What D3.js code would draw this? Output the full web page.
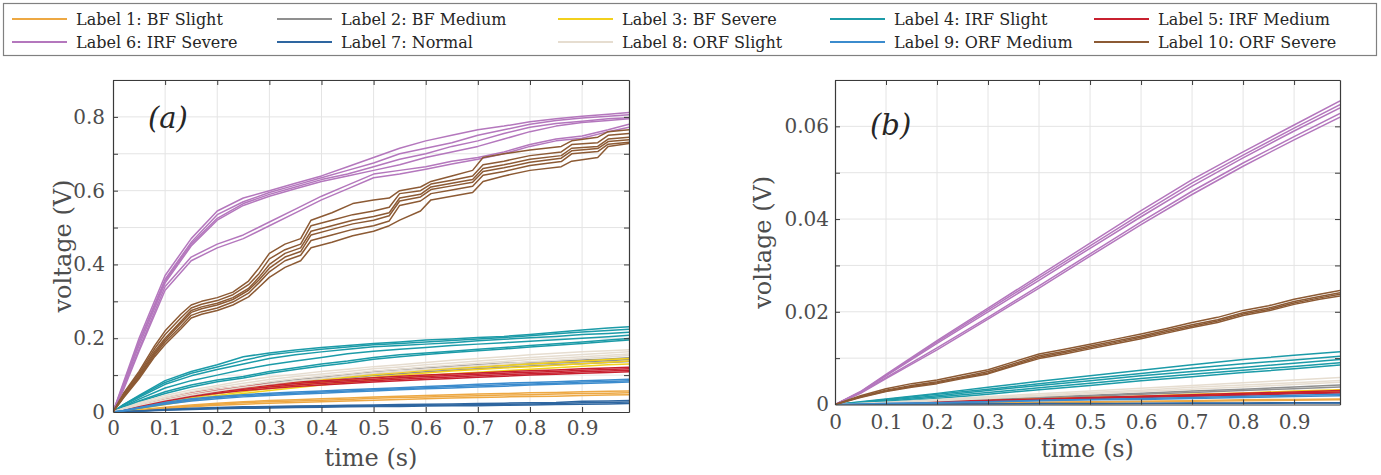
<!DOCTYPE html>
<html>
<head>
<meta charset="utf-8">
<script src="https://cdn.jsdelivr.net/npm/d3@7"></script>
<style>
  body { margin: 0; background: #fff; }
  svg, svg text { font-family: "DejaVu Serif", serif; }
</style>
</head>
<body>
<script>
// class names and line colours
const labels = ["Label 1: BF Slight", "Label 2: BF Medium", "Label 3: BF Severe", "Label 4: IRF Slight",
  "Label 5: IRF Medium", "Label 6: IRF Severe", "Label 7: Normal", "Label 8: ORF Slight",
  "Label 9: ORF Medium", "Label 10: ORF Severe"];
const colors = ["#eda843", "#8f8f8f", "#f2d01c", "#1c9ba8", "#c8202f", "#b477bd", "#2e66a0", "#e6ddd0", "#3b8bcd", "#8c5a34"];

// tick values
const xTicks = [0, 0.1, 0.2, 0.3, 0.4, 0.5, 0.6, 0.7, 0.8, 0.9];
const yTicksA = [0, 0.1, 0.2, 0.3, 0.4, 0.5, 0.6, 0.7, 0.8, 0.9];
const yTicksB = [0, 0.01, 0.02, 0.03, 0.04, 0.05, 0.06, 0.07];

// sample times (s)
const timeA = [0, 0.02, 0.05, 0.1, 0.15, 0.2, 0.25, 0.3, 0.35, 0.4, 0.45, 0.5, 0.55, 0.6, 0.65, 0.7, 0.75, 0.8, 0.85, 0.9, 0.95, 0.99];
const timeBrownA = [0, 0.02, 0.05, 0.08, 0.1, 0.13, 0.15, 0.17, 0.2, 0.23, 0.26, 0.28, 0.3, 0.33, 0.36, 0.38, 0.42, 0.46, 0.5, 0.53, 0.55, 0.59, 0.61, 0.65, 0.69, 0.71, 0.75, 0.8, 0.86, 0.88, 0.93, 0.95, 0.99];
const timeB = [0, 0.05, 0.1, 0.2, 0.3, 0.4, 0.5, 0.6, 0.7, 0.8, 0.9, 0.99];
const timeBrownB = [0, 0.05, 0.1, 0.15, 0.2, 0.25, 0.3, 0.35, 0.4, 0.45, 0.5, 0.55, 0.6, 0.65, 0.7, 0.75, 0.8, 0.85, 0.9, 0.95, 0.99];

// ---- panel (a): voltage per run (V) ----
const bfSlightA = [
  [0, .002, .006, .013, .019, .024, .028, .031, .033, .036, .038, .041, .043, .045, .047, .049, .050, .052, .053, .055, .056, .057],
  [0, .002, .005, .011, .016, .021, .025, .028, .030, .032, .034, .037, .039, .041, .043, .044, .046, .047, .049, .050, .051, .052],
  [0, .001, .004, .009, .014, .018, .021, .024, .026, .028, .030, .032, .034, .036, .038, .039, .041, .042, .043, .045, .046, .047]
];
const bfMediumA = [
  [0, .005, .014, .030, .045, .058, .070, .080, .088, .095, .102, .110, .115, .120, .124, .128, .132, .135, .138, .141, .144, .147],
  [0, .005, .013, .028, .042, .054, .065, .075, .083, .090, .097, .104, .109, .114, .118, .122, .126, .130, .133, .136, .139, .142],
  [0, .004, .012, .026, .039, .050, .060, .070, .078, .085, .092, .099, .104, .109, .113, .117, .121, .125, .128, .131, .134, .137]
];
const bfSevereA = [
  [0, .004, .011, .025, .038, .050, .061, .070, .079, .087, .094, .101, .107, .113, .118, .122, .126, .130, .134, .138, .142, .145],
  [0, .004, .010, .022, .034, .045, .055, .064, .072, .080, .087, .094, .100, .106, .111, .115, .119, .123, .127, .131, .135, .138],
  [0, .003, .009, .020, .031, .041, .050, .058, .066, .073, .080, .087, .093, .099, .104, .108, .112, .116, .120, .124, .128, .130]
];
const irfSlightA = [
  [0, .020, .045, .085, .110, .128, .150, .160, .168, .175, .180, .186, .190, .195, .198, .202, .205, .210, .216, .222, .228, .231],
  [0, .020, .043, .080, .105, .122, .140, .155, .163, .170, .176, .182, .186, .190, .194, .198, .202, .207, .212, .217, .221, .224],
  [0, .018, .040, .075, .098, .115, .130, .145, .155, .163, .170, .177, .180, .184, .188, .193, .197, .201, .205, .210, .213, .216],
  [0, .015, .035, .065, .085, .100, .115, .128, .138, .148, .158, .165, .170, .175, .180, .184, .188, .192, .196, .200, .204, .208],
  [0, .013, .030, .055, .073, .087, .096, .110, .120, .130, .138, .148, .155, .160, .165, .170, .175, .180, .185, .190, .195, .199],
  [0, .012, .028, .050, .068, .082, .092, .105, .115, .125, .133, .143, .150, .156, .161, .166, .171, .176, .181, .186, .191, .195]
];
const irfMediumA = [
  [0, .006, .018, .038, .053, .062, .070, .076, .081, .085, .089, .093, .097, .100, .103, .106, .109, .112, .114, .117, .119, .121],
  [0, .005, .016, .035, .049, .058, .066, .072, .077, .081, .085, .089, .093, .096, .099, .102, .105, .108, .110, .113, .115, .117],
  [0, .005, .015, .032, .046, .055, .062, .068, .073, .077, .081, .085, .089, .092, .095, .098, .101, .104, .106, .109, .111, .113],
  [0, .004, .013, .029, .042, .051, .058, .064, .069, .073, .077, .081, .085, .088, .091, .094, .097, .100, .102, .105, .107, .109]
];
const irfSevereA = [
  [0, .080, .200, .370, .470, .545, .580, .600, .620, .640, .665, .690, .715, .735, .750, .765, .775, .787, .795, .802, .807, .812],
  [0, .075, .190, .360, .460, .535, .570, .595, .615, .635, .655, .675, .700, .715, .730, .750, .765, .780, .790, .797, .802, .806],
  [0, .070, .190, .355, .455, .525, .565, .590, .610, .630, .645, .665, .685, .700, .720, .735, .755, .772, .782, .788, .795, .798],
  [0, .070, .180, .350, .450, .520, .560, .585, .605, .625, .640, .655, .670, .690, .705, .720, .740, .760, .775, .785, .790, .795],
  [0, .065, .170, .340, .420, .455, .480, .515, .550, .585, .615, .645, .655, .665, .680, .690, .705, .725, .740, .748, .765, .780],
  [0, .060, .165, .330, .410, .445, .470, .505, .540, .575, .605, .635, .645, .658, .672, .685, .700, .720, .735, .742, .760, .772]
];
const normalA = [
  [0, .001, .003, .007, .010, .012, .014, .015, .016, .017, .018, .019, .020, .021, .022, .023, .024, .025, .026, .029, .030, .031],
  [0, .001, .003, .006, .008, .010, .012, .013, .014, .015, .016, .017, .018, .018, .019, .020, .021, .022, .023, .025, .026, .027],
  [0, .001, .002, .005, .007, .009, .010, .011, .012, .013, .014, .015, .015, .016, .017, .017, .018, .019, .020, .021, .022, .023]
];
const orfSlightA = [
  [0, .010, .025, .045, .060, .072, .085, .095, .102, .110, .116, .123, .128, .134, .140, .145, .150, .155, .159, .163, .166, .169],
  [0, .010, .022, .040, .055, .067, .078, .088, .096, .103, .110, .117, .122, .128, .133, .138, .143, .148, .152, .156, .160, .163],
  [0, .009, .020, .037, .050, .062, .072, .082, .090, .097, .104, .111, .116, .122, .127, .132, .137, .142, .146, .150, .154, .157],
  [0, .008, .018, .033, .046, .057, .067, .076, .084, .091, .098, .105, .110, .116, .121, .126, .131, .136, .140, .145, .149, .153]
];
const orfMediumA = [
  [0, .004, .012, .026, .036, .042, .047, .051, .054, .057, .060, .063, .066, .069, .072, .075, .078, .080, .082, .085, .087, .089],
  [0, .004, .011, .023, .033, .039, .044, .048, .051, .054, .057, .060, .063, .066, .069, .071, .074, .076, .078, .081, .083, .085],
  [0, .003, .010, .021, .030, .036, .041, .045, .048, .051, .054, .057, .060, .063, .065, .068, .070, .073, .075, .077, .079, .081]
];
const orfSevereA = [
  [0, .050, .110, .180, .220, .265, .290, .300, .310, .325, .355, .390, .430, .455, .470, .520, .540, .565, .575, .580, .600, .610, .625, .640, .655, .690, .700, .710, .720, .735, .745, .760, .765],
  [0, .048, .105, .172, .210, .255, .282, .292, .302, .318, .345, .375, .415, .440, .455, .505, .520, .535, .545, .555, .592, .600, .618, .628, .640, .670, .680, .695, .705, .725, .730, .750, .755],
  [0, .045, .100, .165, .200, .245, .275, .285, .295, .310, .335, .365, .400, .430, .445, .490, .505, .520, .530, .540, .580, .590, .610, .620, .630, .660, .670, .685, .695, .715, .720, .740, .745],
  [0, .043, .097, .160, .195, .240, .270, .280, .290, .305, .330, .358, .390, .420, .435, .480, .495, .510, .520, .532, .572, .583, .603, .613, .623, .652, .662, .677, .688, .708, .714, .733, .738],
  [0, .040, .093, .155, .190, .232, .262, .272, .282, .298, .322, .350, .380, .410, .425, .465, .480, .495, .505, .518, .560, .572, .592, .602, .612, .642, .652, .668, .679, .700, .706, .726, .731],
  [0, .038, .090, .150, .183, .225, .255, .265, .275, .290, .312, .338, .365, .392, .410, .445, .460, .478, .490, .505, .520, .545, .575, .585, .595, .625, .640, .655, .665, .680, .690, .720, .728]
];

// ---- panel (b): voltage per run (V) ----
const bfSlightB = [
  [0, 0, .0001, .0002, .0004, .0005, .0006, .0007, .0008, .0010, .0011, .0012],
  [0, 0, .0001, .0002, .0003, .0004, .0005, .0006, .0007, .0008, .0009, .0010]
];
const bfMediumB = [
  [0, .0001, .0003, .0007, .0011, .0016, .0020, .0024, .0029, .0033, .0038, .0042],
  [0, .0001, .0003, .0006, .0010, .0014, .0018, .0022, .0026, .0030, .0034, .0038]
];
const bfSevereB = [
  [0, .0001, .0002, .0005, .0008, .0012, .0015, .0018, .0022, .0025, .0029, .0032],
  [0, .0001, .0002, .0005, .0008, .0011, .0014, .0017, .0020, .0023, .0026, .0029]
];
const irfSlightB = [
  [0, .0006, .0012, .0024, .0037, .0050, .0062, .0074, .0086, .0097, .0106, .0114],
  [0, .0005, .0011, .0022, .0033, .0045, .0056, .0067, .0078, .0088, .0096, .0104],
  [0, .0004, .0009, .0019, .0030, .0041, .0051, .0062, .0071, .0080, .0089, .0097],
  [0, .0003, .0007, .0016, .0026, .0036, .0046, .0056, .0065, .0074, .0082, .0090],
  [0, .0002, .0005, .0013, .0022, .0032, .0041, .0051, .0060, .0069, .0077, .0085]
];
const irfMediumB = [
  [0, .0001, .0003, .0006, .0009, .0012, .0015, .0018, .0021, .0024, .0027, .0030],
  [0, .0001, .0003, .0006, .0008, .0011, .0014, .0017, .0019, .0022, .0025, .0027],
  [0, .0001, .0002, .0005, .0007, .0010, .0013, .0015, .0018, .0020, .0023, .0025]
];
const irfSevereB = [
  [0, .0028, .0065, .0138, .0208, .0278, .0348, .0418, .0485, .0545, .0603, .0655],
  [0, .0027, .0063, .0135, .0204, .0273, .0342, .0411, .0478, .0538, .0596, .0647],
  [0, .0026, .0062, .0132, .0200, .0268, .0337, .0405, .0471, .0532, .0590, .0640],
  [0, .0025, .0058, .0122, .0188, .0256, .0325, .0394, .0460, .0521, .0578, .0628],
  [0, .0024, .0056, .0118, .0184, .0251, .0320, .0388, .0453, .0514, .0571, .0620]
];
const normalB = [
  [0, 0, 0, .0001, .0001, .0002, .0002, .0002, .0003, .0003, .0004, .0004],
  [0, 0, 0, 0, .0001, .0001, .0001, .0002, .0002, .0002, .0003, .0003]
];
const orfSlightB = [
  [0, .0002, .0005, .0011, .0017, .0023, .0029, .0035, .0041, .0047, .0053, .0058],
  [0, .0002, .0004, .0009, .0015, .0020, .0026, .0031, .0037, .0042, .0047, .0052],
  [0, .0001, .0003, .0008, .0013, .0018, .0023, .0028, .0033, .0038, .0043, .0048]
];
const orfMediumB = [
  [0, .0001, .0002, .0004, .0006, .0009, .0011, .0013, .0015, .0018, .0020, .0022],
  [0, .0001, .0002, .0004, .0006, .0008, .0010, .0011, .0013, .0015, .0017, .0019]
];
const orfSevereB = [
  [0, .0019, .0034, .0045, .0053, .0064, .0075, .0092, .0109, .0119, .0130, .0141, .0152, .0164, .0177, .0188, .0203, .0213, .0227, .0238, .0246],
  [0, .0017, .0031, .0041, .0049, .0060, .0071, .0088, .0105, .0115, .0126, .0137, .0148, .0160, .0172, .0183, .0198, .0208, .0222, .0233, .0241],
  [0, .0016, .0029, .0039, .0047, .0058, .0068, .0085, .0102, .0112, .0123, .0134, .0145, .0157, .0169, .0180, .0195, .0205, .0219, .0230, .0238],
  [0, .0015, .0028, .0037, .0045, .0056, .0066, .0083, .0099, .0109, .0120, .0131, .0142, .0154, .0166, .0177, .0192, .0202, .0216, .0227, .0234]
];

const panels = [
  {
    id: "a", left: 113, right: 629, top: 80, bottom: 412,
    yMax: 0.9, yTicks: yTicksA, yFmt: (d, i) => i % 2 ? "" : (d === 0 ? "0" : d3.format(".1f")(d)),
    xPad: 9, yPad: 8, xLabelY: 466, yLabelX: 71, tag: [148, 128],
    runs: [bfSlightA, bfMediumA, bfSevereA, irfSlightA, irfMediumA, irfSevereA, normalA, orfSlightA, orfMediumA, orfSevereA],
    times: [timeA, timeA, timeA, timeA, timeA, timeA, timeA, timeA, timeA, timeBrownA]
  },
  {
    id: "b", left: 835, right: 1340, top: 80, bottom: 404.5,
    yMax: 0.07, yTicks: yTicksB, yFmt: (d, i) => i % 2 ? "" : (d === 0 ? "0" : d3.format(".2f")(d)),
    xPad: 10, yPad: 6, xLabelY: 457, yLabelX: 771, tag: [870, 135],
    runs: [bfSlightB, bfMediumB, bfSevereB, irfSlightB, irfMediumB, irfSevereB, normalB, orfSlightB, orfMediumB, orfSevereB],
    times: [timeB, timeB, timeB, timeB, timeB, timeB, timeB, timeB, timeB, timeBrownB]
  }
];

const serif = '"DejaVu Serif", serif';
const svg = d3.select("body").append("svg").attr("width", 1381).attr("height", 475)
  .attr("font-family", serif);

const tickColor = "#4d4d4d";
const fmtX = d => d === 0 ? "0" : d3.format(".1f")(d);

panels.forEach(p => {
  const x = d3.scaleLinear().domain([0, 0.99]).range([p.left, p.right]);
  const y = d3.scaleLinear().domain([0, p.yMax]).range([p.bottom, p.top]);
  const g = svg.append("g");

  // grid
  g.append("g").selectAll("line").data(xTicks.slice(1)).join("line")
    .attr("x1", d => x(d)).attr("x2", d => x(d)).attr("y1", p.top).attr("y2", p.bottom)
    .attr("stroke", "#e4e4e4").attr("stroke-width", 1);
  g.append("g").selectAll("line").data(p.yTicks.slice(1)).join("line")
    .attr("x1", p.left).attr("x2", p.right).attr("y1", d => y(d)).attr("y2", d => y(d))
    .attr("stroke", "#e4e4e4").attr("stroke-width", 1);

  // runs
  g.append("clipPath").attr("id", "clip-" + p.id).append("rect")
    .attr("x", p.left).attr("y", p.top).attr("width", p.right - p.left).attr("height", p.bottom - p.top);
  const plot = g.append("g").attr("clip-path", `url(#clip-${p.id})`);
  p.runs.forEach((runs, c) => {
    const ts = p.times[c];
    const line = d3.line().x((d, i) => x(ts[i])).y(d => y(d));
    plot.append("g").selectAll("path").data(runs).join("path")
      .attr("d", line).attr("fill", "none")
      .attr("stroke", colors[c]).attr("stroke-width", 1.5).attr("stroke-linejoin", "round");
  });

  // axes with inward ticks on all four sides
  const ax = [
    g.append("g").attr("transform", `translate(0,${p.bottom})`)
      .call(d3.axisBottom(x).tickValues(xTicks).tickFormat(fmtX).tickSize(-5).tickSizeOuter(0).tickPadding(p.xPad)),
    g.append("g").attr("transform", `translate(0,${p.top})`)
      .call(d3.axisTop(x).tickValues(xTicks).tickFormat("").tickSize(-5).tickSizeOuter(0)),
    g.append("g").attr("transform", `translate(${p.left},0)`)
      .call(d3.axisLeft(y).tickValues(p.yTicks).tickFormat(p.yFmt).tickSize(-5).tickSizeOuter(0).tickPadding(p.yPad)),
    g.append("g").attr("transform", `translate(${p.right},0)`)
      .call(d3.axisRight(y).tickValues(p.yTicks).tickFormat("").tickSize(-5).tickSizeOuter(0))
  ];
  ax.forEach(a => {
    a.attr("font-family", serif);
    a.select(".domain").attr("stroke", "#3a3a3a").attr("stroke-width", 1.2);
    a.selectAll(".tick line").attr("stroke", "#3a3a3a");
    a.selectAll(".tick text").attr("fill", tickColor).attr("font-size", 20);
  });
  // no tick marks on the box corners
  ax.forEach(a => a.selectAll(".tick").filter(d => d === 0).select("line").remove());

  g.append("text").attr("x", (p.left + p.right) / 2).attr("y", p.xLabelY)
    .attr("text-anchor", "middle").attr("fill", tickColor).attr("font-size", 24).text("time (s)");
  g.append("text").attr("transform", `translate(${p.yLabelX},${(p.top + p.bottom) / 2}) rotate(-90)`)
    .attr("text-anchor", "middle").attr("fill", tickColor).attr("font-size", 24).text("voltage (V)");
  g.append("text").attr("x", p.tag[0]).attr("y", p.tag[1])
    .attr("fill", "#262626").attr("font-size", 29).attr("font-style", "italic").text(`(${p.id})`);
});

// legend: two rows of five entries
const legendCols = [12, 277, 558, 830, 1094];
const legendRows = [19, 42];
const legend = svg.append("g");
legend.append("rect").attr("x", 3.5).attr("y", 3.5).attr("width", 1373).attr("height", 52)
  .attr("fill", "#fff").attr("stroke", "#808080").attr("stroke-width", 1.2);
const entries = legend.selectAll("g.entry").data(labels).join("g").attr("class", "entry")
  .attr("transform", (d, i) => `translate(${legendCols[i % 5]},${legendRows[Math.floor(i / 5)]})`);
entries.append("line").attr("x1", 0).attr("x2", 55).attr("y1", 0).attr("y2", 0)
  .attr("stroke", (d, i) => colors[i]).attr("stroke-width", 2);
entries.append("text").attr("x", 64).attr("y", 6)
  .attr("fill", "#262626").attr("font-size", 16).text(d => d);
</script>
</body>
</html>
